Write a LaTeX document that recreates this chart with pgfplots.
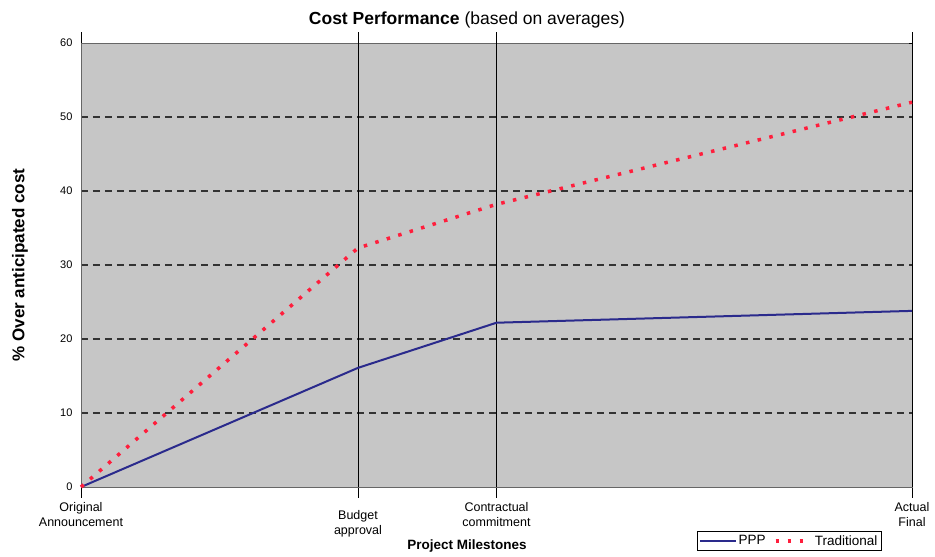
\documentclass[border=0pt]{standalone}
\usepackage{pgfplots}
\pgfplotsset{compat=1.18}
\usepackage{fontspec}
\setmainfont{Liberation Sans}
\definecolor{pppblue}{HTML}{2A2A8C}
\definecolor{tradred}{HTML}{FF1E3C}
\definecolor{plotgray}{HTML}{C6C6C6}

\begin{document}
\begin{tikzpicture}[x=1pt,y=1pt]
  \path[use as bounding box] (-81,-70) rectangle (854,487);
  \begin{axis}[
      scale only axis,
      width=831pt, height=444pt,
      xmin=0, xmax=3,
      ymin=0, ymax=60,
      axis background/.style={fill=plotgray},
      axis line style={draw=gray!80!black, line width=0.8pt},
      xtick={0,1,1.5,3},
      xticklabels={Original\\Announcement, \rule{0pt}{17pt}Budget\\approval, Contractual\\commitment, Actual\\Final},
      xticklabel style={align=center, font=\fontsize{12.5}{14.5}\selectfont, text depth=0pt},
      x tick label style={yshift=-1pt},
      tick align=outside,
      major tick length=11pt,
      xtick style={black, line width=0.9pt},
      ytick={10,20,...,50},
      extra y ticks={0,60},
      extra y tick style={grid=none},
      ytick style={draw=none},
      yticklabel style={font=\fontsize{11}{12}\selectfont, xshift=6pt},
      /pgf/number format/assume math mode=true,
      ymajorgrids,
      grid style={black!80, line width=1.1pt, dash pattern=on 7pt off 5pt},
      title={\textbf{Cost Performance} (based on averages)},
      title style={font=\fontsize{17.5}{20}\selectfont, at={(0.4645,1)}, anchor=south, yshift=5pt},
      xlabel={\textbf{Project Milestones}},
      xlabel style={font=\fontsize{13.5}{16}\selectfont, at={(0.4645,0)}, anchor=base, yshift=-63pt},
      ylabel={\textbf{\% Over anticipated cost}},
      ylabel style={font=\fontsize{17}{20}\selectfont, at={(axis description cs:-0.0735,0.5)}, anchor=center},
      legend style={at={(0.741,-0.099)}, anchor=north west, legend columns=2,
        draw=black, line width=0.8pt, fill=white, inner sep=2pt,
        font=\fontsize{13.5}{15}\selectfont,
        /tikz/every even column/.append style={column sep=6pt}},
      legend image code/.code={\draw[#1] (0cm,0cm) -- (1.25cm,0cm);},
      clip=false,
    ]
    \draw[black, line width=1pt] (axis cs:1,0) -- (axis cs:1,60);
    \draw[black, line width=1pt] (axis cs:1.5,0) -- (axis cs:1.5,60);
    \draw[black, line width=1pt] (axis cs:3,0) -- (axis cs:3,60) -- ++(-3pt,0);

    \addplot[pppblue, line width=2pt] coordinates {
      (0,0) (1,16.1) (1.5,22.2) (3,23.8)
    };
    \addlegendentry{PPP}
    \addplot[tradred, line width=3.5pt, dash pattern=on 3.5pt off 8.5pt] coordinates {
      (0,0) (1,32.3) (1.5,38.2) (3,52.0)
    };
    \addlegendentry{Traditional}
  \end{axis}
\end{tikzpicture}
\end{document}
